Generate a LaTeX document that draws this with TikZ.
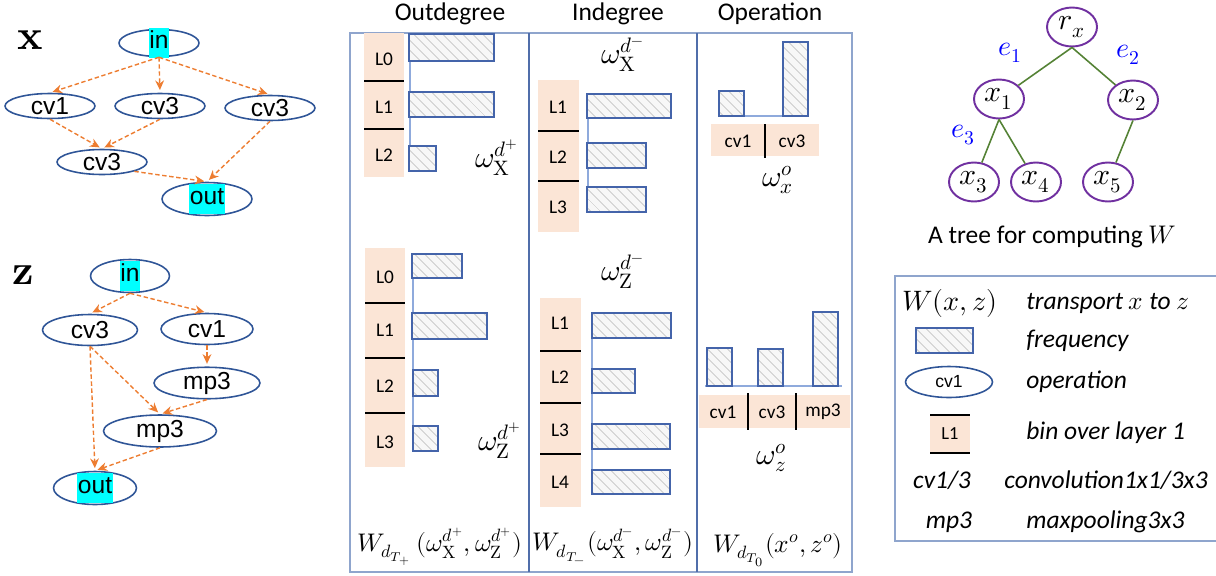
\documentclass[tikz,border=0pt]{standalone}
\usepackage{fontspec}
\setmainfont{Carlito}
\newfontfamily\arialfont{Liberation Sans}
\usepackage{unicode-math}
\usetikzlibrary{shapes.geometric,patterns.meta,arrows.meta}

\definecolor{opblue}{RGB}{47,85,151}
\definecolor{flowor}{RGB}{237,125,49}
\definecolor{bintan}{RGB}{251,229,214}
\definecolor{barblue}{RGB}{68,100,170}
\definecolor{panelblue}{RGB}{143,165,205}
\definecolor{divblue}{RGB}{80,110,170}
\definecolor{axisblue}{RGB}{143,170,220}
\definecolor{hatchgray}{RGB}{215,215,215}
\definecolor{hlcyan}{RGB}{0,255,255}
\definecolor{treepurple}{RGB}{112,48,160}
\definecolor{treegreen}{RGB}{84,130,53}

\newcommand{\hl}[1]{\raisebox{-3pt}[0pt][0pt]{\setlength{\fboxsep}{0.5pt}\colorbox{hlcyan}{\rule[-5pt]{0pt}{16pt}#1}}}

\begin{document}
\begin{tikzpicture}[
    x=0.02cm, y=-0.02cm,
    op/.style={
        ellipse,
        draw=opblue,
        line width=0.9pt,
        inner sep=0pt,
        minimum width=1.8cm,
        minimum height=0.5cm,
        font=\arialfont\fontsize{14}{16}\selectfont
    },
    flow/.style={->, >={Stealth[length=5.5pt,width=5pt]}, dash pattern=on 2.5pt off 1.5pt, flowor, line width=0.8pt, shorten >=1.5pt},
    bar/.style={draw=barblue, line width=0.9pt, preaction={fill=gray!6},
        pattern={Lines[angle=-45,distance=4pt,line width=0.7pt]}, pattern color=hatchgray},
    bin/.style={fill=bintan},
    binlabel/.style={font=\fontsize{11}{13}\selectfont},
    axis/.style={axisblue, line width=0.7pt},
    sep/.style={black, line width=0.8pt},
    wlabel/.style={font=\fontsize{17}{20}\selectfont},
    formula/.style={font=\fontsize{14.5}{17}\selectfont},
    head/.style={font=\fontsize{14.5}{17}\selectfont},
    tnode/.style={
        ellipse,
        draw=treepurple,
        line width=1.1pt,
        minimum width=1cm,
        minimum height=0.78cm,
        inner sep=0pt,
        font=\fontsize{17}{20}\selectfont
    },
    tedge/.style={treegreen, line width=0.9pt},
    elabel/.style={blue, font=\fontsize{16}{18}\selectfont},
    legsym/.style={font=\itshape\fontsize{14.5}{17}\selectfont},
    legtext/.style={anchor=west, inner xsep=0pt, font=\itshape\fontsize{14.5}{17}\selectfont}
]
\useasboundingbox (0,0) rectangle (1216,575);

% graph x
\node[font=\fontsize{24}{26}\selectfont] (lx) at (30,40) {$\symbf{x}$};
\node[op, minimum width=1.6cm, minimum height=0.54cm] (xin) at (159,43) {\hl{in}};
\node[op] (xa) at (50,106) {cv1};
\node[op] (xb) at (160,106) {cv3};
\node[op] (xc) at (270,108) {cv3};
\node[op] (xd) at (102,162) {cv3};
\node[op, minimum height=0.66cm] (xout) at (207,199) {\hl{out}};

\draw[flow] (xin.south) -- (xa.north);
\draw[flow] (xin.south) -- (xb.north);
\draw[flow] (xin.south) -- (xc.north);
\draw[flow] (xa.south) -- (xd.north);
\draw[flow] (xb.south) -- (xd.north);
\draw[flow] (xd.south east) -- (xout.north);
\draw[flow] (xc.south) -- (xout.north);

% graph z
\node[font=\fontsize{24}{26}\selectfont] (lz) at (23,275) {$\symbf{z}$};
\node[op, minimum width=1.58cm, minimum height=0.66cm] (zin) at (130,276) {\hl{in}};
\node[op, minimum width=1.9cm, minimum height=0.62cm] (za) at (90,330) {cv3};
\node[op, minimum width=1.84cm, minimum height=0.62cm] (zb) at (207,329) {cv1};
\node[op, minimum width=2.12cm, minimum height=0.62cm] (zc) at (207,383) {mp3};
\node[op, minimum width=2.26cm, minimum height=0.64cm] (zd) at (160,431) {mp3};
\node[op, minimum width=1.66cm, minimum height=0.66cm] (zout) at (95,488) {\hl{out}};

\draw[flow] (zin.south) -- (za.north);
\draw[flow] (zin.south) -- (zb.north);
\draw[flow] (zb.south) -- (zc.north);
\draw[flow] (za.south) -- (zd.north);
\draw[flow] (za.south) -- (zout.north);
\draw[flow] (zc.south) -- (zd.north);
\draw[flow] (zd.south) -- (zout.north);

% panels
\draw[panelblue, line width=1pt] (350,33) rectangle (852,572);
\draw[divblue, line width=1pt] (529,33) -- (529,572);
\draw[divblue, line width=1pt] (697,33) -- (697,572);
\node[head] (hout) at (450,14) {Outdegree};
\node[head] (hin) at (618,14) {Indegree};
\node[head] (hop) at (770,14) {Operation};

% outdegree x
\fill[bin] (364,33) rectangle (404,177);
\draw[sep] (364,81) -- (404,81);
\draw[sep] (364,129) -- (404,129);
\node[binlabel] (ox0) at (384,59) {L0};
\node[binlabel] (ox1) at (384,107) {L1};
\node[binlabel] (ox2) at (384,155) {L2};
\draw[axis] (410,34) -- (410,171);
\draw[bar] (409,34) rectangle (494,61);
\draw[bar] (409,92) rectangle (494,117);
\draw[bar] (409,146) rectangle (436,171);
\node[wlabel] (wox) at (497,158) {$\omega_{\symup{X}}^{d^{+}}$};

% outdegree z
\fill[bin] (365,248) rectangle (405,467);
\draw[sep] (365,303) -- (405,303);
\draw[sep] (365,358) -- (405,358);
\draw[sep] (365,413) -- (405,413);
\node[binlabel] (oz0) at (385,277) {L0};
\node[binlabel] (oz1) at (385,330) {L1};
\node[binlabel] (oz2) at (385,386) {L2};
\node[binlabel] (oz3) at (385,442) {L3};
\draw[axis] (413,254) -- (413,451);
\draw[bar] (412,254) rectangle (462,278);
\draw[bar] (412,313) rectangle (487,339);
\draw[bar] (413,370) rectangle (438,396);
\draw[bar] (413,426) rectangle (438,451);
\node[wlabel] (woz) at (500,441) {$\omega_{\symup{Z}}^{d^{+}}$};
\node[formula] (fout) at (440,547) {$W_{d_{T_{+}}}\,(\omega_{\symup{X}}^{d^{+}},\omega_{\symup{Z}}^{d^{+}})$};

% indegree x
\node[wlabel] (wix) at (623,55) {$\omega_{\symup{X}}^{d^{-}}$};
\fill[bin] (538,80) rectangle (579,232);
\draw[sep] (538,131) -- (579,131);
\draw[sep] (538,181) -- (579,181);
\node[binlabel] (ix1) at (558,107) {L1};
\node[binlabel] (ix2) at (558,157) {L2};
\node[binlabel] (ix3) at (558,207) {L3};
\draw[axis] (588,94) -- (588,212);
\draw[bar] (587,94) rectangle (671,118);
\draw[bar] (587,143) rectangle (646,168);
\draw[bar] (587,187) rectangle (646,212);

% indegree z
\node[wlabel] (wiz) at (623,272) {$\omega_{\symup{Z}}^{d^{-}}$};
\fill[bin] (540,298) rectangle (581,507);
\draw[sep] (540,351) -- (581,351);
\draw[sep] (540,403) -- (581,403);
\draw[sep] (540,454) -- (581,454);
\node[binlabel] (iz1) at (560,323) {L1};
\node[binlabel] (iz2) at (560,377) {L2};
\node[binlabel] (iz3) at (560,430) {L3};
\node[binlabel] (iz4) at (560,482) {L4};
\draw[axis] (592,313) -- (592,494);
\draw[bar] (592,313) rectangle (671,338);
\draw[bar] (592,369) rectangle (635,393);
\draw[bar] (592,424) rectangle (670,449);
\draw[bar] (592,470) rectangle (670,494);
\node[formula] (fin) at (613,547) {$W_{d_{T_{-}}}(\omega_{\symup{X}}^{d^{-}},\omega_{\symup{Z}}^{d^{-}})$};

% operation x
\draw[axis] (719,116) -- (808,116);
\draw[bar] (719,91) rectangle (744,116);
\draw[bar] (783,42) rectangle (808,116);
\fill[bin] (711,124) rectangle (819,156);
\draw[sep] (765,124) -- (765,158);
\node[binlabel] (px1) at (738,141) {cv1};
\node[binlabel] (px3) at (792,141) {cv3};
\node[wlabel] (wpx) at (778,180) {$\omega_{x}^{o}$};

% operation z
\draw[axis] (705,386) -- (842,386);
\draw[bar] (707,348) rectangle (732,386);
\draw[bar] (758,349) rectangle (783,386);
\draw[bar] (813,312) rectangle (838,386);
\fill[bin] (699,395) rectangle (850,428);
\draw[sep] (748,393) -- (748,430);
\draw[sep] (796,393) -- (796,430);
\node[binlabel] (pz1) at (723,412) {cv1};
\node[binlabel] (pz3) at (772,412) {cv3};
\node[binlabel] (pzm) at (823,412) {mp3};
\node[wlabel] (wpz) at (772,458) {$\omega_{z}^{o}$};
\node[formula] (fop) at (778,550) {$W_{d_{T_{0}}}(x^{o},z^{o})$};

% tree
\node[tnode] (rx) at (1072,27) {$r_x$};
\node[tnode] (x1) at (999,99) {$x_1$};
\node[tnode] (x2) at (1133,100) {$x_2$};
\node[tnode] (x3) at (974,182) {$x_3$};
\node[tnode] (x4) at (1036,182) {$x_4$};
\node[tnode] (x5) at (1108,182) {$x_5$};
\draw[tedge] (rx.south) -- (x1);
\draw[tedge] (rx.south) -- (x2);
\draw[tedge] (x1.south) -- (x3);
\draw[tedge] (x1.south) -- (x4);
\draw[tedge] (x2.south) -- (x5);
\node[elabel] (e1) at (1010,53) {$e_1$};
\node[elabel] (e2) at (1128,55) {$e_2$};
\node[elabel] (e3) at (963,135) {$e_3$};
\node[head] (cap) at (1052,237) {A tree for computing $W$};

% legend
\draw[panelblue, line width=1pt] (1218,276) -| (895,541) -- (1218,541);
\node[legsym, font=\fontsize{16}{18}\selectfont] (lw) at (950,303) {$W(x,z)$};
\node[legtext] (lwt) at (1026,303) {transport $x$ to $z$};
\draw[bar] (916,328) rectangle (973,353);
\node[legtext] (lft) at (1026,341) {frequency};
\node[op, minimum width=1.74cm, minimum height=0.62cm, font=\arialfont\fontsize{10}{12}\selectfont] (lop) at (949,382) {cv1};
\node[legtext] (lopt) at (1026,382) {operation};
\fill[bin] (930,415) rectangle (970,453);
\draw[sep] (930,415) -- (970,415);
\draw[sep] (930,453) -- (970,453);
\node[binlabel, font=\fontsize{10.5}{12}\selectfont] (lbin) at (950,434) {L1};
\node[legtext] (lbint) at (1026,433) {bin over layer 1};
\node[legsym] (lcv) at (942,480) {cv1/3};
\node[legtext] (lcvt) at (1004,480) {convolution1x1/3x3};
\node[legsym] (lmp) at (949,522) {mp3};
\node[legtext] (lmpt) at (1026,522) {maxpooling3x3};

\end{tikzpicture}
\end{document}
